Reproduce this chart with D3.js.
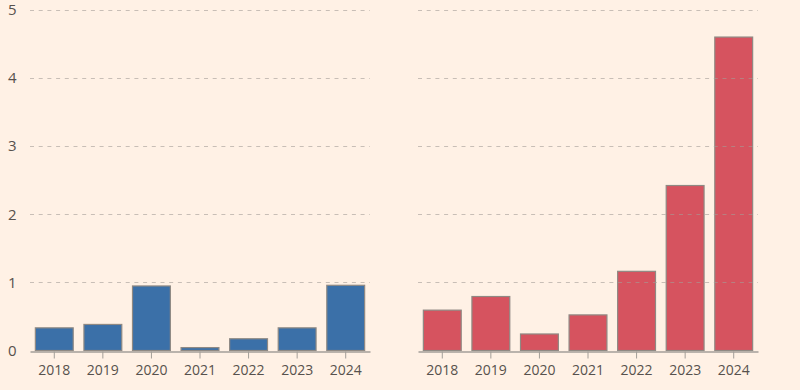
<!DOCTYPE html>
<html>
<head>
<meta charset="utf-8">
<script src="https://cdn.jsdelivr.net/npm/d3@7"></script>
<style>
html,body{margin:0;padding:0;background:#fff1e5;}
svg{display:block;}
text{font-family:"Open Sans","Noto Sans",sans-serif;fill:#57514d;}
</style>
</head>
<body>
<svg id="chart" width="800" height="390"></svg>
<script>
const years = ["2018","2019","2020","2021","2022","2023","2024"];
const leftValues = [0.34, 0.39, 0.955, 0.05, 0.18, 0.34, 0.965];
const rightValues = [0.60, 0.80, 0.25, 0.53, 1.17, 2.43, 4.61];
const yTicks = [0, 1, 2, 3, 4, 5];
const leftColor = "#3b70a8";
const rightColor = "#d6535f";

const svg = d3.select("#chart");
const y = d3.scaleLinear().domain([0, 5]).range([350.5, 10]);

function panel(x0, x1, values, color, showY) {
  const x = d3.scaleBand().domain(years).range([x0, x1]).paddingInner(0.2).paddingOuter(0.1);
  const g = svg.append("g");
  if (showY) {
    g.selectAll("text.yl").data(yTicks).enter().append("text")
      .attr("class","yl")
      .attr("x", 8).attr("y", d => y(d)).attr("dy","0.35em")
      .attr("font-size", 15).text(d => d);
  }
  g.selectAll("rect").data(values).enter().append("rect")
    .attr("x", (d,i) => x(years[i]) + 0.5)
    .attr("y", d => y(d) + 0.5)
    .attr("width", x.bandwidth() - 1)
    .attr("height", d => y(0) - y(d) - 0.5)
    .attr("fill", color).attr("stroke", "#8f8983").attr("stroke-width", 1.2);
  g.selectAll("line.grid").data(yTicks.filter(d => d > 0)).enter().append("line")
    .attr("class","grid")
    .attr("x1", x0).attr("x2", x1)
    .attr("y1", d => Math.round(y(d)) + 0.5).attr("y2", d => Math.round(y(d)) + 0.5)
    .attr("stroke", "#a39d96").attr("stroke-opacity", 0.6)
    .attr("stroke-dasharray", "4,4.7").attr("stroke-width", 1);
  const ax = g.append("g").attr("transform", `translate(0,${Math.round(y(0))+0.5})`)
    .call(d3.axisBottom(x).tickSize(7).tickPadding(7).tickSizeOuter(0));
  ax.select(".domain").attr("stroke", "#a39e98").attr("stroke-width", 1.3);
  ax.selectAll(".tick line").attr("stroke", "#a39e98");
  ax.selectAll(".tick text").attr("font-size", 14).attr("fill", "#57514d")
    .attr("font-family", "'Open Sans','Noto Sans',sans-serif");
}

panel(30, 370, leftValues, leftColor, true);
panel(418, 758, rightValues, rightColor, false);
</script>
</body>
</html>
